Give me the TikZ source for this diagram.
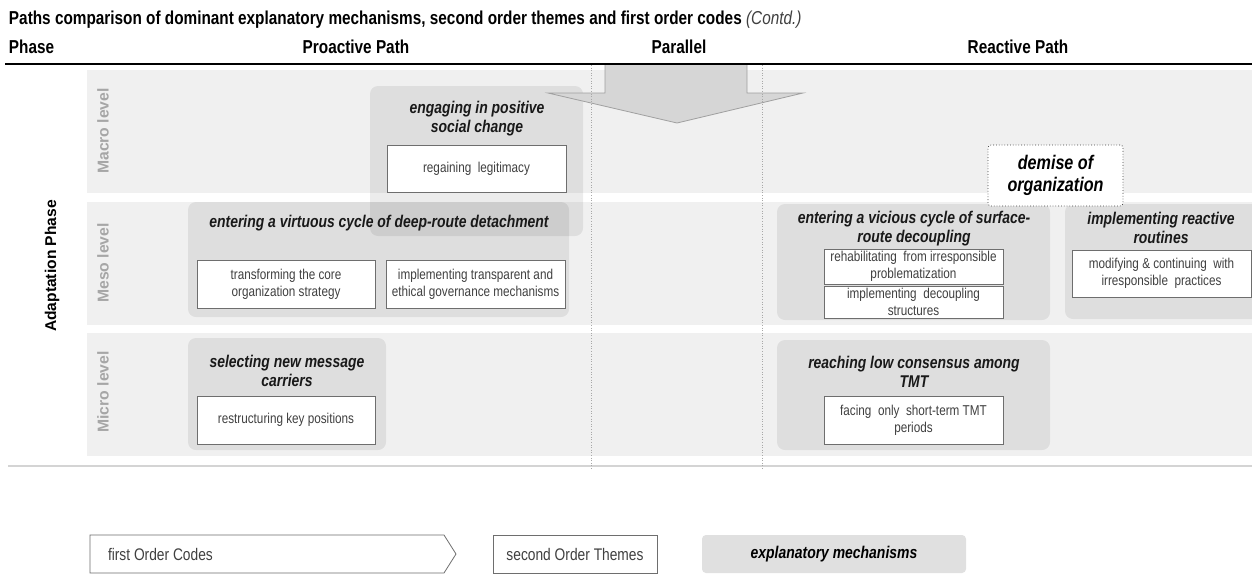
\documentclass[tikz,border=0pt]{standalone}
\usepackage{fontspec}
\setmainfont{Liberation Sans}[FakeStretch=0.82]
\newfontfamily\widesans{Liberation Sans}
\definecolor{bandgray}{HTML}{F0F0F0}
\definecolor{codeline}{HTML}{6E6E6E}
\definecolor{codetext}{HTML}{404040}
\definecolor{levelgray}{HTML}{A6A6A6}
\definecolor{guide}{HTML}{A8A8A8}
\definecolor{rulegray}{HTML}{D4D4D4}
\definecolor{arrowfill}{HTML}{D6D6D6}
\definecolor{arrowline}{HTML}{A0A0A0}
\definecolor{legendgray}{HTML}{E0E0E0}
\begin{document}
\begin{tikzpicture}[x=1pt,y=-1pt,
  every node/.style={inner sep=0pt, outer sep=0pt},
  band/.style={fill=bandgray},
  mech/.style={fill=black, fill opacity=0.075, rounded corners=8pt, anchor=north west},
  mtitle/.style={font=\fontsize{17}{19}\selectfont\bfseries\itshape, align=center, text=black!90},
  code/.style={draw=codeline, line width=0.8pt, fill=white, anchor=north west,
    font=\fontsize{14.3}{16.8}\selectfont, text=codetext, align=center},
  lvl/.style={rotate=90, font=\widesans\fontsize{15.7}{18}\selectfont\bfseries, text=levelgray},
  head/.style={font=\fontsize{18.7}{21}\selectfont\bfseries, anchor=base},
  guideline/.style={guide, dotted, line width=0.6pt}
]
\clip (0,0) rectangle (1252,576);
\fill[white] (0,0) rectangle (1252,576);

% title and column headers
\node[anchor=base west, font=\fontsize{18.7}{21}\selectfont\bfseries] (title) at (9,24)
  {Paths comparison of dominant explanatory mechanisms, second order themes and first order codes {\mdseries\itshape\color{codetext}(Contd.)}};
\node[head, anchor=base west] (hphase) at (9,53) {Phase};
\node[head] (hpro) at (356,53) {Proactive Path};
\node[head] (hpar) at (679,53) {Parallel};
\node[head] (hrea) at (1018,53) {Reactive Path};

% level bands
\fill[band] (87,70) rectangle (1252,193);
\fill[band] (87,202) rectangle (1252,325);
\fill[band] (87,333) rectangle (1252,456);
\draw[rulegray, line width=2pt] (8,466) -- (1252,466);

\node[rotate=90, font=\widesans\fontsize{15.6}{18}\selectfont\bfseries] (adapt) at (52,266) {Adaptation Phase};
\node[lvl] (lmacro) at (103,131) {Macro level};
\node[lvl] (lmeso) at (103,263) {Meso level};
\node[lvl] (lmicro) at (103,392) {Micro level};

% explanatory mechanisms
\node[mech, minimum width=381, minimum height=115] (mvirt) at (188,202) {};
\node[mech, minimum width=213, minimum height=150] (mpos) at (370,86) {};
\node[mech, minimum width=273, minimum height=116] (mvic) at (777,204) {};
\node[mech, minimum width=200, minimum height=115] (mrout) at (1065,204) {};
\node[mech, minimum width=198, minimum height=112] (msel) at (188,338) {};
\node[mech, minimum width=273, minimum height=110] (mlow) at (777,340) {};

% parallel arrow
\draw[arrowline, fill=arrowfill, line width=0.8pt]
  (605,64) -- (605,93) -- (548,93) -- (677,123) -- (803,93) -- (747,93) -- (747,64) -- cycle;
\draw[line width=2pt] (5,64) -- (1252,64);

% column separators
\draw[guideline] (591,65) -- (591,470);
\draw[guideline] (762,65) -- (762,470);

% mechanism titles
\node[mtitle] (tpos) at (477,119) {engaging in positive\\social change};
\node[mtitle] (tvirt) at (379,223) {entering a virtuous cycle of deep-route detachment};
\node[mtitle] (tvic) at (914,229) {entering a vicious cycle of surface-\\route decoupling};
\node[mtitle] (trout) at (1161,228) {implementing reactive\\routines};
\node[mtitle] (tsel) at (287,371) {selecting new message\\carriers};
\node[mtitle] (tlow) at (914,372) {reaching low consensus among\\TMT};

% second order themes / first order codes
\node[code, minimum width=179, minimum height=47] (cleg) at (387,145) {regaining\ \ legitimacy};
\node[code, minimum width=178, minimum height=48] (ccore) at (197,260) {transforming the core\\organization strategy};
\node[code, minimum width=179, minimum height=48] (cgov) at (386,260) {implementing transparent and\\ethical governance mechanisms};
\node[code, minimum width=179, minimum height=35] (creh) at (824,249) {rehabilitating\ \ from irresponsible\\problematization};
\node[code, minimum width=179, minimum height=32] (cdec) at (824,286) {implementing\ \ decoupling\\structures};
\node[code, minimum width=179, minimum height=47] (cmod) at (1072,250) {modifying \& continuing\ \ with\\irresponsible\ \ practices};
\node[code, minimum width=178, minimum height=48] (ckey) at (197,396) {restructuring key positions};
\node[code, minimum width=179, minimum height=48] (ctmt) at (824,396) {facing\ \ only\ \ short-term TMT\\periods};

% outcome
\node[draw=black!75, dotted, line width=0.8pt, fill=white, rounded corners=3pt,
  minimum width=135, minimum height=61, anchor=north west, align=center,
  font=\fontsize{19.7}{22}\selectfont\bfseries\itshape] (demise) at (988,145) {demise of\\organization};

% legend
\draw[codeline, line width=0.8pt, fill=white] (90,535) -- (444,535) -- (456,554) -- (444,573) -- (90,573) -- cycle;
\node[anchor=west, font=\fontsize{16.8}{19}\selectfont, text=codetext] (lfirst) at (108,554) {first Order Codes};
\node[code, minimum width=164, minimum height=38, font=\fontsize{16.8}{19}\selectfont] (lsecond) at (493,535) {second Order Themes};
\node[fill=legendgray, rounded corners=4pt, minimum width=264, minimum height=38, anchor=north west,
  font=\fontsize{17}{19}\selectfont\bfseries\itshape] (lmech) at (702,535) {explanatory mechanisms};
\end{tikzpicture}
\end{document}
